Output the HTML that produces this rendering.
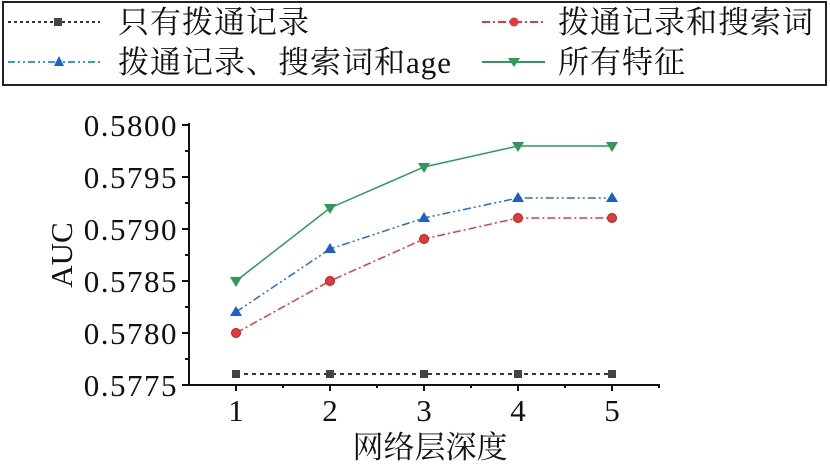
<!DOCTYPE html><html><head><meta charset="utf-8"><style>body{margin:0;background:#fff}svg{display:block}text{font-family:"Liberation Serif","Noto Serif CJK SC",serif;fill:#111}</style></head><body>
<svg width="830" height="467" viewBox="0 0 830 467">
<rect x="3" y="2" width="823" height="83" fill="none" stroke="#222" stroke-width="2"/>
<g font-size="31" letter-spacing="1">
<line x1="8" y1="22" x2="100" y2="22" stroke="#333" stroke-width="2" stroke-dasharray="3,3"/><rect x="54" y="18" width="8" height="8" fill="#444"/>
<text x="118" y="33">只有拨通记录</text>
<line x1="482" y1="22" x2="545" y2="22" stroke="#e03a3a" stroke-width="2" stroke-dasharray="8,3,2,3"/><circle cx="514" cy="22" r="4.5" fill="#e03a3a"/>
<text x="558" y="33">拨通记录和搜索词</text>
<line x1="8" y1="62" x2="100" y2="62" stroke="#29a0e0" stroke-width="2" stroke-dasharray="7,3,2,3,2,3"/><polygon points="59,56 64,66 54,66" fill="#1f5fc8"/>
<text x="118" y="73">拨通记录、搜索词和age</text>
<line x1="482" y1="62" x2="545" y2="62" stroke="#2e9a5a" stroke-width="2"/><polygon points="508,58 520,58 514,67" fill="#2e9a5a"/>
<text x="558" y="73">所有特征</text>
</g>
<g stroke="#111" stroke-width="2" fill="none">
<line x1="189" y1="123" x2="189" y2="386"/><line x1="188" y1="385" x2="660" y2="385"/>
<path d="M182 125H189M182 177H189M182 229H189M182 281H189M182 333H189M182 385H189M185 151H189M185 203H189M185 255H189M185 307H189M185 359H189"/>
<path d="M236 385V391M330 385V391M424 385V391M518 385V391M612 385V391M283 385V388M377 385V388M471 385V388M565 385V388M659 385V388"/>
</g>
<g font-size="31" text-anchor="end" letter-spacing="1.5">
<text x="178" y="136">0.5800</text><text x="178" y="188">0.5795</text><text x="178" y="240">0.5790</text><text x="178" y="292">0.5785</text><text x="178" y="344">0.5780</text><text x="178" y="396">0.5775</text>
</g>
<g font-size="31" text-anchor="middle">
<text x="236" y="421">1</text><text x="330" y="421">2</text><text x="424" y="421">3</text><text x="518" y="421">4</text><text x="612" y="421">5</text>
<text x="430" y="458">网络层深度</text>
<text transform="translate(72,255) rotate(-90)">AUC</text>
</g>
<polyline points="236,374 330,374 424,374 518,374 612,374" fill="none" stroke="#333" stroke-width="2" stroke-dasharray="4,4"/>
<g fill="#444"><rect x="232" y="370" width="8" height="8"/><rect x="326" y="370" width="8" height="8"/><rect x="420" y="370" width="8" height="8"/><rect x="514" y="370" width="8" height="8"/><rect x="608" y="370" width="8" height="8"/></g>
<polyline points="236,333 330,281 424,239 518,218 612,218" fill="none" stroke="#e03a3a" stroke-width="1.5" stroke-dasharray="8,3,2,3"/>
<g fill="#e03a3a" stroke="#b02020"><circle cx="236" cy="333" r="4.5"/><circle cx="330" cy="281" r="4.5"/><circle cx="424" cy="239" r="4.5"/><circle cx="518" cy="218" r="4.5"/><circle cx="612" cy="218" r="4.5"/></g>
<polyline points="236,312 330,249 424,218 518,198 612,198" fill="none" stroke="#2a6ad0" stroke-width="1.5" stroke-dasharray="8,3,2,3,2,3"/>
<g fill="#1f5fc8"><polygon points="236,306 242,316 230,316"/><polygon points="330,243 336,253 324,253"/><polygon points="424,212 430,222 418,222"/><polygon points="518,192 524,202 512,202"/><polygon points="612,192 618,202 606,202"/></g>
<polyline points="236,281 330,208 424,167 518,146 612,146" fill="none" stroke="#2e9a5a" stroke-width="1.5"/>
<g fill="#2e9a5a"><polygon points="230,277 242,277 236,287"/><polygon points="324,204 336,204 330,214"/><polygon points="418,163 430,163 424,173"/><polygon points="512,142 524,142 518,152"/><polygon points="606,142 618,142 612,152"/></g>
</svg></body></html>
